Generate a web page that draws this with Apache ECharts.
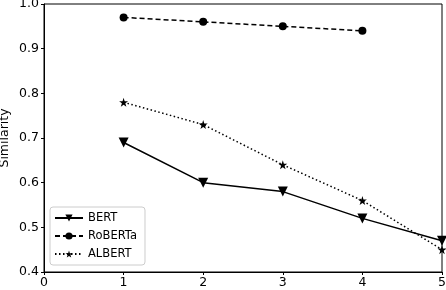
<!DOCTYPE html>
<html><head><meta charset="utf-8">
<script src="https://cdn.jsdelivr.net/npm/echarts@6/dist/echarts.min.js"></script>
<style>html,body{margin:0;padding:0;background:#fff}#c{width:446px;height:290px}</style>
</head><body><div id="c"></div>
<script>
var xBERT = [1, 2, 3, 4, 5];
var BERT = [0.69, 0.60, 0.58, 0.52, 0.47];
var xRoBERTa = [1, 2, 3, 4];
var RoBERTa = [0.97, 0.96, 0.95, 0.94];
var xALBERT = [1, 2, 3, 4, 5];
var ALBERT = [0.78, 0.73, 0.64, 0.56, 0.45];

var star = 'path://M50,0 L61.8,36.2 L100,36.2 L69.1,58.8 L80.9,95.1 L50,72.7 L19.1,95.1 L30.9,58.8 L0,36.2 L38.2,36.2 Z';
function pairs(xs, ys){ return xs.map(function(x,i){return [x, ys[i]];}); }
var font = 'DejaVu Sans';
var chart = echarts.init(document.getElementById('c'), null, {renderer:'canvas'});
chart.setOption({
  animation:false,
  textStyle:{fontFamily:font},
  grid:{left:44, right:4, top:4, bottom:18, show:true, borderColor:'#000', borderWidth:1,
    containLabel:false, outerBoundsMode:'none'},
  xAxis:{type:'value', min:0, max:5, interval:1,
    axisLine:{show:true, lineStyle:{color:'#000'}},
    axisTick:{show:true, length:3, lineStyle:{color:'#000'}},
    axisLabel:{color:'#000', fontSize:12.5, fontFamily:font, margin:4},
    splitLine:{show:false}},
  yAxis:{type:'value', min:0.4, max:1.0, interval:0.1,
    name:'Similarity', nameLocation:'middle', nameGap:33, nameRotate:90, nameMoveOverlap:false,
    nameTextStyle:{color:'#000', fontSize:12.5, fontFamily:font},
    axisLine:{show:true, lineStyle:{color:'#000'}},
    axisTick:{show:true, length:3, lineStyle:{color:'#000'}},
    axisLabel:{color:'#000', fontSize:12.5, fontFamily:font, margin:5, formatter:function(v){return v.toFixed(1);}},
    splitLine:{show:false}},
  legend:{orient:'vertical', left:50, top:207, itemWidth:28, itemHeight:9, itemGap:6,
    padding:[5,8,5,4], borderColor:'#ccc', borderWidth:1, borderRadius:3, backgroundColor:'#fff',
    textStyle:{color:'#000', fontSize:11.5, fontFamily:font},
    data:['BERT','RoBERTa','ALBERT']},
  series:[
    {name:'BERT', type:'line', data:pairs(xBERT,BERT), symbol:'triangle', symbolRotate:180, symbolSize:10,
      lineStyle:{color:'#000', width:1.5, type:'solid'}, itemStyle:{color:'#000'}},
    {name:'RoBERTa', type:'line', data:pairs(xRoBERTa,RoBERTa), symbol:'circle', symbolSize:8,
      lineStyle:{color:'#000', width:1.5, type:[5,3]}, itemStyle:{color:'#000'}},
    {name:'ALBERT', type:'line', data:pairs(xALBERT,ALBERT), symbol:star, symbolSize:9,
      lineStyle:{color:'#000', width:1.5, type:[1.5,2.5]}, itemStyle:{color:'#000'}}
  ]
});
</script></body></html>
